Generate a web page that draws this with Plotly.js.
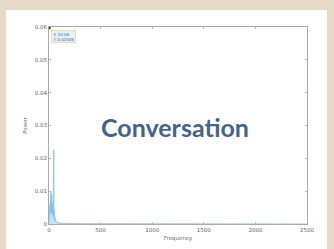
<!DOCTYPE html>
<html><head><meta charset="utf-8">
<script src="https://cdn.plot.ly/plotly-3.0.1.min.js"></script>
<style>html,body{margin:0;padding:0;background:#e6d9c7;}#chart{width:334px;height:249px;}</style>
</head><body><div id="chart"></div>
<script>
var frequency = [0, 2, 4, 6, 8, 10, 12, 14, 16, 18, 20, 22, 24, 26, 28, 30, 32, 34, 36, 38, 40, 42, 44, 46, 48, 50, 52, 54, 56, 58, 60, 65, 70, 80, 90, 100, 120, 150, 200, 300, 500, 800, 1200, 1600, 2000, 2200, 2500];
var power = [0.0005, 0.0030, 0.0018, 0.0045, 0.0025, 0.0060, 0.0032, 0.0085, 0.0040, 0.0100, 0.0055, 0.0070, 0.0035, 0.0090, 0.0042, 0.0065, 0.0030, 0.0050, 0.0022, 0.0040, 0.0030, 0.0080, 0.0035, 0.0226, 0.0030, 0.0045, 0.0015, 0.0030, 0.0012, 0.0020, 0.0008, 0.0012, 0.0006, 0.0005, 0.0004, 0.0003, 0.0002, 0.0002, 0.0001, 0.0001, 0.0001, 0.0001, 0.0001, 0.0001, 0.0001, 0.0000, 0.0000];
var tipX = [30.06];
var tipY = [0.02006];
var tipMarkerX = [0];
var tipMarkerY = [0.0598];
var xTicks = [0, 500, 1000, 1500, 2000, 2500];
var yTicks = [0, 0.01, 0.02, 0.03, 0.04, 0.05, 0.06];
var yTickText = ['0', '0.01', '0.02', '0.03', '0.04', '0.05', '0.06'];

var traces = [
  {x: frequency, y: power, type: 'scatter', mode: 'lines', line: {color: '#7cc0e8', width: 0.8}, fill: 'tozeroy', fillcolor: 'rgba(140,200,235,0.5)', hoverinfo: 'none'},
  {x: tipMarkerX, y: tipMarkerY, type: 'scatter', mode: 'markers', marker: {color: '#222', size: 3, symbol: 'square'}, hoverinfo: 'none'}
];
var axisFont = {family: 'DejaVu Sans', size: 5.5, color: '#666'};
var layout = {
  width: 334, height: 249,
  paper_bgcolor: '#e6d9c7', plot_bgcolor: 'rgba(0,0,0,0)',
  margin: {l: 49, r: 27, t: 27, b: 25},
  showlegend: false,
  font: axisFont,
  xaxis: {range: [0, 2500], tickvals: xTicks, ticktext: xTicks.map(String), showgrid: false, zeroline: false,
    showline: true, linecolor: '#aaa', linewidth: 1, mirror: 'ticks', ticks: 'inside', ticklen: 2, tickcolor: '#bbb',
    tickfont: axisFont, title: {text: 'Frequency', font: axisFont, standoff: 4}},
  yaxis: {range: [0, 0.06], tickvals: yTicks, ticktext: yTickText, showgrid: false, zeroline: false,
    showline: true, linecolor: '#aaa', linewidth: 1, mirror: 'ticks', ticks: 'inside', ticklen: 2, tickcolor: '#bbb',
    tickfont: axisFont, title: {text: 'Power', font: axisFont, standoff: 6}},
  shapes: [
    {type: 'rect', xref: 'paper', yref: 'paper', x0: -43/258, x1: 278/258, y0: -30/197, y1: 214/197, fillcolor: '#ffffff', line: {width: 0}, layer: 'below'}
  ],
  annotations: [
    {xref: 'x', yref: 'y', x: 20, y: 0.0572, xanchor: 'left', yanchor: 'middle', showarrow: false, align: 'left',
      text: 'X ' + tipX[0] + '<br>Y ' + tipY[0].toFixed(5), font: {family: 'DejaVu Sans', size: 4, color: '#2a6fa8'},
      bgcolor: '#e3f1fb', bordercolor: '#f2c79a', borderwidth: 0.6, borderpad: 1},
    {xref: 'paper', yref: 'paper', x: (175-49)/258, y: (224-127)/197, xanchor: 'center', yanchor: 'middle', showarrow: false,
      text: 'Conversation', font: {family: 'Lato', size: 25, color: '#45638b', weight: 700}}
  ]
};
Plotly.newPlot('chart', traces, layout, {staticPlot: true, displayModeBar: false});
</script></body></html>
